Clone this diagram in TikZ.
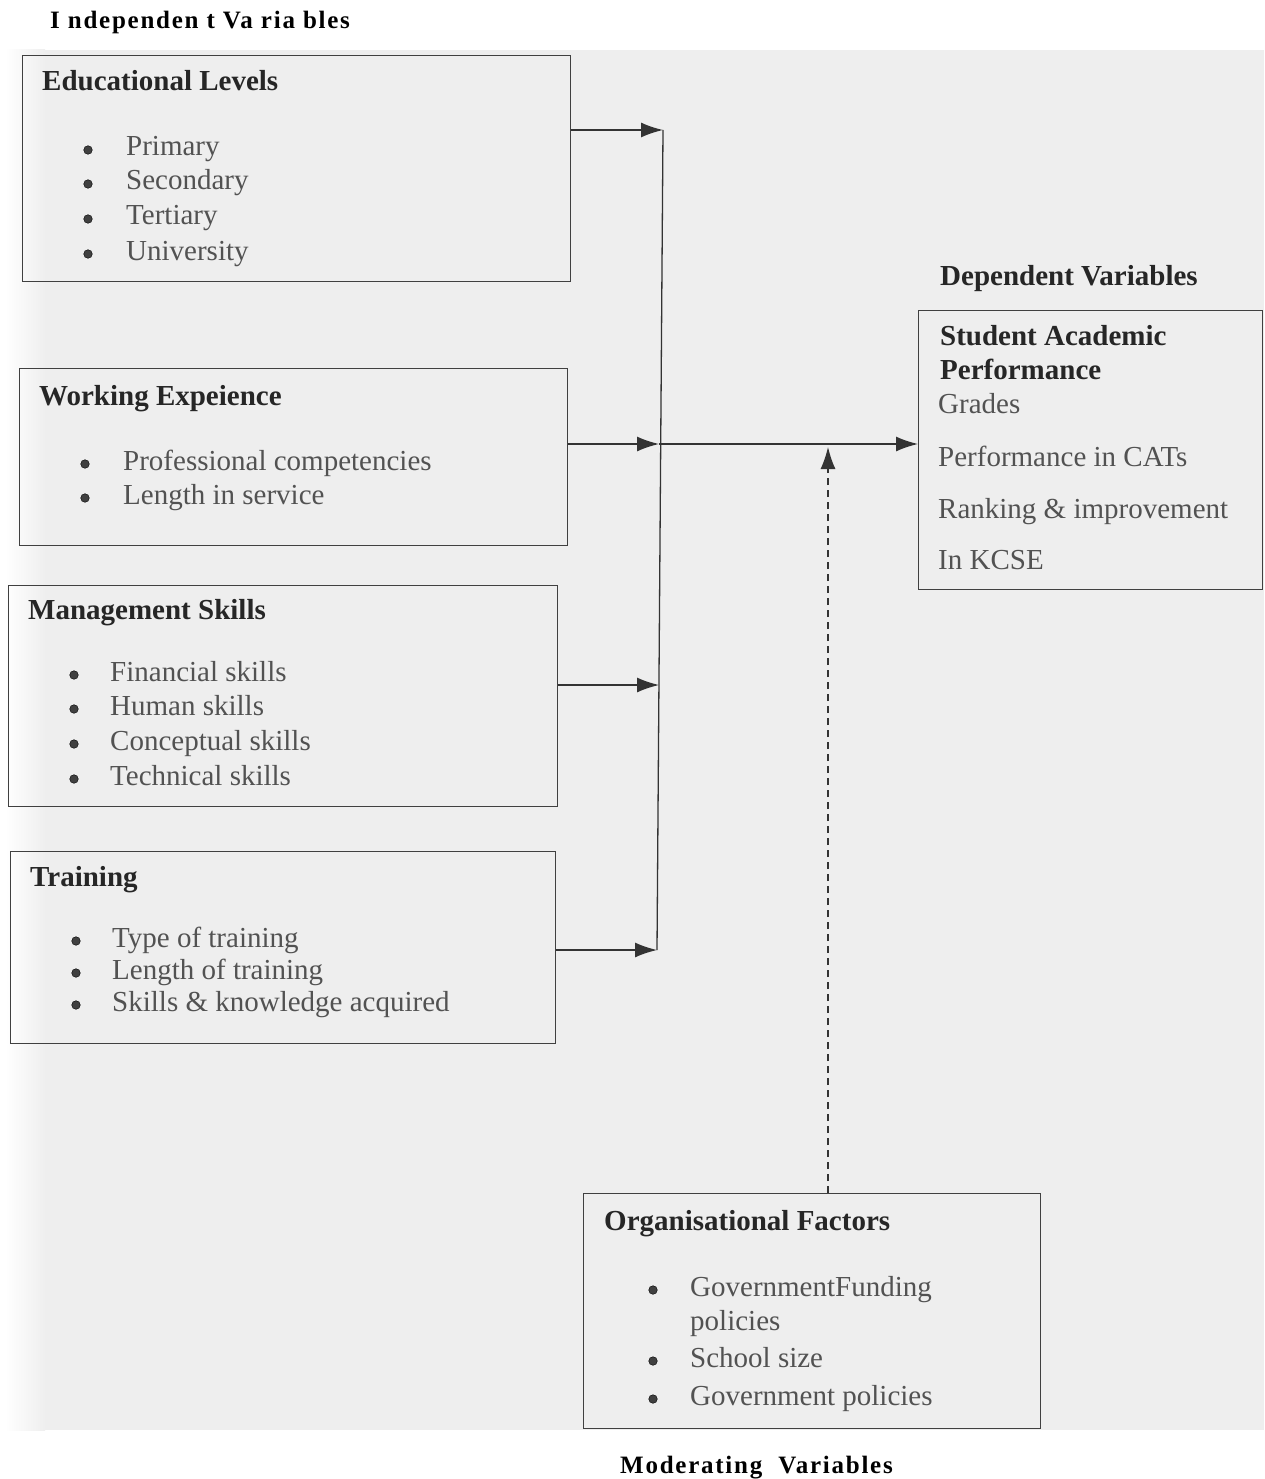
\documentclass[tikz,border=0pt]{standalone}
\usepackage{fontspec}
\setmainfont{Liberation Serif}
\newfontfamily\spacedfont[LetterSpace=7]{Liberation Serif}
\usetikzlibrary{
	positioning,    %定位
	arrows.meta,    %箭头
	calc            %计算
}
\tikzset{
	every picture/.style={
		>={Latex[length=22pt,width=15pt]},
		x=1pt, y=-1pt
	},
	factbox/.style={draw=black!75, line width=1.3pt, anchor=north west, inner sep=0pt},
	boxtitle/.style={anchor=base west, inner sep=0pt, text=black!85,
		font=\fontsize{29}{34}\selectfont\bfseries},
	boxitem/.style={anchor=base west, inner sep=0pt, text=black!68,
		font=\fontsize{29}{34}\selectfont},
	vartitle/.style={anchor=base west, inner sep=0pt, text=black,
		font=\fontsize{25}{30}\selectfont\spacedfont\bfseries},
	link/.style={->, line width=1.3pt, draw=black!80},
	bul/.style={fill=black!75}
}

\begin{document}
\begin{tikzpicture}
\useasboundingbox (0,0) rectangle (1264,1479);
% 背景
\fill[gray!13] (5,50) rectangle (1264,1430);
\shade[left color=white, right color=gray!13] (5,50) rectangle (45,1430);

\node[vartitle] (indep) at (50,29) {I ndependen t Va ria bles};

% 自变量方框
\node[factbox, minimum width=548pt, minimum height=226pt] (edu) at (22,55) {};
\node[boxtitle] (edut) at (42,91) {Educational Levels};
\node[boxitem] (edu1) at (126,156) {Primary};
\node[boxitem] (edu2) at (126,190) {Secondary};
\node[boxitem] (edu3) at (126,225) {Tertiary};
\node[boxitem] (edu4) at (126,260) {University};
\foreach \y in {150,184,219,254} \filldraw[bul] (88,\y) circle [radius=4.3pt];

\node[factbox, minimum width=548pt, minimum height=177pt] (wex) at (19,368) {};
\node[boxtitle] (wext) at (39,405) {Working Expeience};
\node[boxitem] (wex1) at (123,470) {Professional competencies};
\node[boxitem] (wex2) at (123,504) {Length in service};
\foreach \y in {464,498} \filldraw[bul] (85,\y) circle [radius=4.3pt];

\node[factbox, minimum width=549pt, minimum height=221pt] (mgt) at (8,585) {};
\node[boxtitle] (mgtt) at (28,619) {Management Skills};
\node[boxitem] (mgt1) at (110,681) {Financial skills};
\node[boxitem] (mgt2) at (110,715) {Human skills};
\node[boxitem] (mgt3) at (110,750) {Conceptual skills};
\node[boxitem] (mgt4) at (110,785) {Technical skills};
\foreach \y in {675,709,744,779} \filldraw[bul] (74,\y) circle [radius=4.3pt];

\node[factbox, minimum width=545pt, minimum height=192pt] (trn) at (10,851) {};
\node[boxtitle] (trnt) at (30,886) {Training};
\node[boxitem] (trn1) at (112,947) {Type of training};
\node[boxitem] (trn2) at (112,979) {Length of training};
\node[boxitem] (trn3) at (112,1011) {Skills \& knowledge acquired};
\foreach \y in {941,973,1005} \filldraw[bul] (76,\y) circle [radius=4.3pt];

% 因变量
\node[boxtitle] (dept) at (940,285) {Dependent Variables};
\node[factbox, minimum width=344pt, minimum height=279pt] (dep) at (918,310) {};
\node[boxtitle] (dep0) at (940,345) {Student Academic};
\node[boxtitle] (dep1) at (940,379) {Performance};
\node[boxitem] (dep2) at (938,413) {Grades};
\node[boxitem] (dep3) at (938,466) {Performance in CATs};
\node[boxitem] (dep4) at (938,518) {Ranking \& improvement};
\node[boxitem] (dep5) at (938,569) {In KCSE};

% 调节变量
\node[factbox, minimum width=457pt, minimum height=235pt] (org) at (583,1193) {};
\node[boxtitle] (orgt) at (604,1230) {Organisational Factors};
\node[boxitem] (org1) at (690,1296) {GovernmentFunding};
\node[boxitem] (org2) at (690,1330) {policies};
\node[boxitem] (org3) at (690,1367) {School size};
\node[boxitem] (org4) at (690,1405) {Government policies};
\foreach \y in {1290,1361,1399} \filldraw[bul] (653,\y) circle [radius=4.3pt];
\node[vartitle] (moder) at (620,1473) {Moderating\ \ Variables};

% 连线
\coordinate (j1) at (663,130);
\coordinate (j2) at (659,444);
\coordinate (j3) at (659,685);
\coordinate (j4) at (657,950);
\coordinate (m) at (828,447);
\draw[link] (edu.east |- j1) -- (j1);
\draw[link] (wex.east |- j2) -- (j2);
\draw[link] (mgt.east |- j3) -- (j3);
\draw[link] (trn.east |- j4) -- (j4);
\draw[line width=1.3pt, draw=black!80] (j1) -- (j4);
\draw[link] (j2) -- (dep.west |- j2);
\draw[link, dash pattern=on 7pt off 5pt] (org.north -| m) -- (m);
\end{tikzpicture}
\end{document}
